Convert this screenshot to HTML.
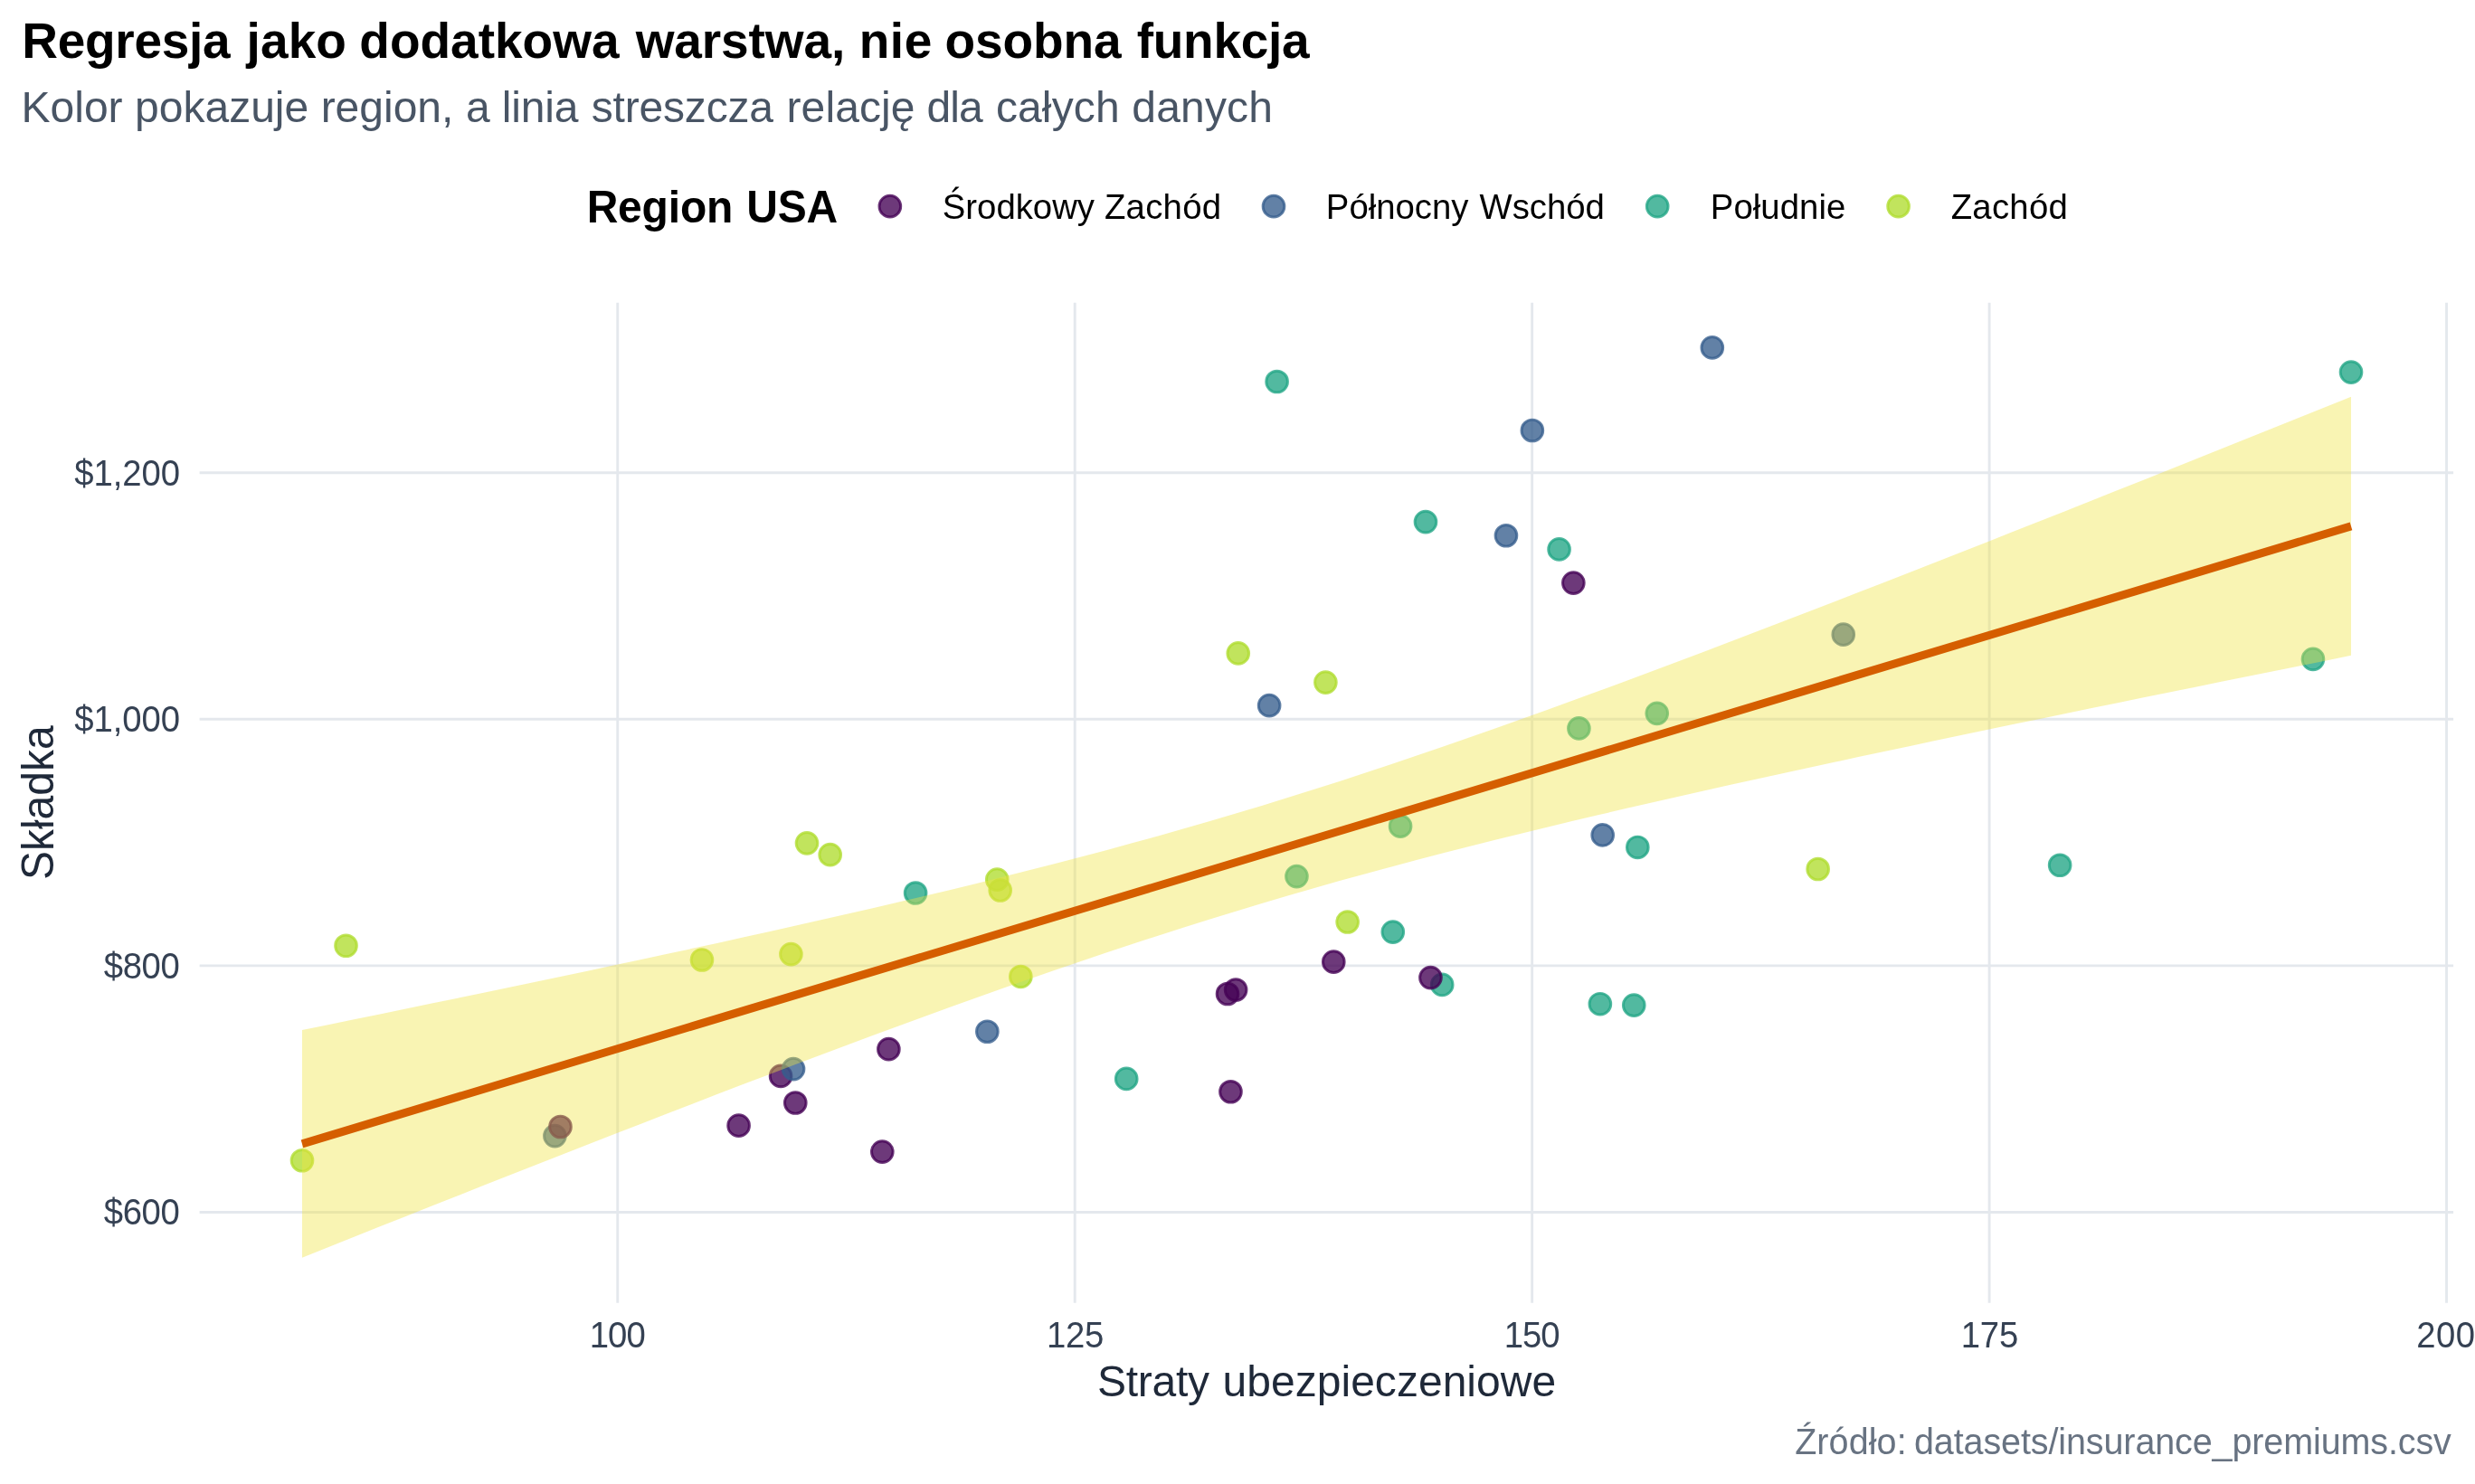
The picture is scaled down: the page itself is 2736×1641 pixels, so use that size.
<!DOCTYPE html>
<html lang="pl">
<head>
<meta charset="utf-8">
<title>Regresja jako dodatkowa warstwa, nie osobna funkcja</title>
<style>
html,body{margin:0;padding:0;background:#fff;}
body{width:2736px;height:1641px;overflow:hidden;font-family:"Liberation Sans",Arial,Helvetica,sans-serif;}
svg{display:block;will-change:transform;}
</style>
</head>
<body>
<svg width="2736" height="1641" viewBox="0 0 2736 1641" font-family="'Liberation Sans', Arial, Helvetica, sans-serif">
<rect width="2736" height="1641" fill="#ffffff"/>
<g stroke="#E4E8ED" stroke-width="2.9" fill="none">
<line x1="220.60" x2="2712.10" y1="1340.45" y2="1340.45"/>
<line x1="220.60" x2="2712.10" y1="1067.88" y2="1067.88"/>
<line x1="220.60" x2="2712.10" y1="795.31" y2="795.31"/>
<line x1="220.60" x2="2712.10" y1="522.74" y2="522.74"/>
<line x1="682.75" x2="682.75" y1="334.80" y2="1440.70"/>
<line x1="1188.20" x2="1188.20" y1="334.80" y2="1440.70"/>
<line x1="1693.65" x2="1693.65" y1="334.80" y2="1440.70"/>
<line x1="2199.10" x2="2199.10" y1="334.80" y2="1440.70"/>
<line x1="2704.55" x2="2704.55" y1="334.80" y2="1440.70"/>
</g>
<g stroke-width="2.95">
<circle cx="1594.18" cy="1088.94" r="11.85" fill="#21A585" fill-opacity="0.78" stroke="#21A585" stroke-opacity="0.78"/>
<circle cx="1368.75" cy="722.42" r="11.85" fill="#B0DD2F" fill-opacity="0.78" stroke="#B0DD2F" stroke-opacity="0.78"/>
<circle cx="892.01" cy="932.32" r="11.85" fill="#B0DD2F" fill-opacity="0.78" stroke="#B0DD2F" stroke-opacity="0.78"/>
<circle cx="1539.79" cy="1030.62" r="11.85" fill="#21A585" fill-opacity="0.78" stroke="#21A585" stroke-opacity="0.78"/>
<circle cx="2009.66" cy="961.02" r="11.85" fill="#B0DD2F" fill-opacity="0.78" stroke="#B0DD2F" stroke-opacity="0.78"/>
<circle cx="1489.65" cy="1019.50" r="11.85" fill="#B0DD2F" fill-opacity="0.78" stroke="#B0DD2F" stroke-opacity="0.78"/>
<circle cx="2037.76" cy="701.64" r="11.85" fill="#365D8D" fill-opacity="0.78" stroke="#365D8D" stroke-opacity="0.78"/>
<circle cx="1723.57" cy="607.41" r="11.85" fill="#21A585" fill-opacity="0.78" stroke="#21A585" stroke-opacity="0.78"/>
<circle cx="1411.61" cy="422.04" r="11.85" fill="#21A585" fill-opacity="0.78" stroke="#21A585" stroke-opacity="0.78"/>
<circle cx="1575.98" cy="577.08" r="11.85" fill="#21A585" fill-opacity="0.78" stroke="#21A585" stroke-opacity="0.78"/>
<circle cx="1548.08" cy="913.67" r="11.85" fill="#21A585" fill-opacity="0.78" stroke="#21A585" stroke-opacity="0.78"/>
<circle cx="1105.71" cy="984.50" r="11.85" fill="#B0DD2F" fill-opacity="0.78" stroke="#B0DD2F" stroke-opacity="0.78"/>
<circle cx="333.99" cy="1283.26" r="11.85" fill="#B0DD2F" fill-opacity="0.78" stroke="#B0DD2F" stroke-opacity="0.78"/>
<circle cx="1474.28" cy="1063.64" r="11.85" fill="#440154" fill-opacity="0.78" stroke="#440154" stroke-opacity="0.78"/>
<circle cx="863.09" cy="1189.91" r="11.85" fill="#440154" fill-opacity="0.78" stroke="#440154" stroke-opacity="0.78"/>
<circle cx="975.30" cy="1273.59" r="11.85" fill="#440154" fill-opacity="0.78" stroke="#440154" stroke-opacity="0.78"/>
<circle cx="1366.12" cy="1094.52" r="11.85" fill="#440154" fill-opacity="0.78" stroke="#440154" stroke-opacity="0.78"/>
<circle cx="1433.44" cy="969.06" r="11.85" fill="#21A585" fill-opacity="0.78" stroke="#21A585" stroke-opacity="0.78"/>
<circle cx="2599.01" cy="411.60" r="11.85" fill="#21A585" fill-opacity="0.78" stroke="#21A585" stroke-opacity="0.78"/>
<circle cx="613.40" cy="1256.12" r="11.85" fill="#365D8D" fill-opacity="0.78" stroke="#365D8D" stroke-opacity="0.78"/>
<circle cx="2556.96" cy="728.83" r="11.85" fill="#21A585" fill-opacity="0.78" stroke="#21A585" stroke-opacity="0.78"/>
<circle cx="1403.12" cy="780.13" r="11.85" fill="#365D8D" fill-opacity="0.78" stroke="#365D8D" stroke-opacity="0.78"/>
<circle cx="1739.34" cy="644.57" r="11.85" fill="#440154" fill-opacity="0.78" stroke="#440154" stroke-opacity="0.78"/>
<circle cx="1357.02" cy="1098.98" r="11.85" fill="#440154" fill-opacity="0.78" stroke="#440154" stroke-opacity="0.78"/>
<circle cx="1810.31" cy="936.95" r="11.85" fill="#21A585" fill-opacity="0.78" stroke="#21A585" stroke-opacity="0.78"/>
<circle cx="1581.44" cy="1081.07" r="11.85" fill="#440154" fill-opacity="0.78" stroke="#440154" stroke-opacity="0.78"/>
<circle cx="382.51" cy="1045.79" r="11.85" fill="#B0DD2F" fill-opacity="0.78" stroke="#B0DD2F" stroke-opacity="0.78"/>
<circle cx="982.38" cy="1160.17" r="11.85" fill="#440154" fill-opacity="0.78" stroke="#440154" stroke-opacity="0.78"/>
<circle cx="1465.39" cy="754.60" r="11.85" fill="#B0DD2F" fill-opacity="0.78" stroke="#B0DD2F" stroke-opacity="0.78"/>
<circle cx="1091.36" cy="1140.74" r="11.85" fill="#365D8D" fill-opacity="0.78" stroke="#365D8D" stroke-opacity="0.78"/>
<circle cx="1892.80" cy="384.38" r="11.85" fill="#365D8D" fill-opacity="0.78" stroke="#365D8D" stroke-opacity="0.78"/>
<circle cx="1102.27" cy="972.68" r="11.85" fill="#B0DD2F" fill-opacity="0.78" stroke="#B0DD2F" stroke-opacity="0.78"/>
<circle cx="1693.85" cy="475.98" r="11.85" fill="#365D8D" fill-opacity="0.78" stroke="#365D8D" stroke-opacity="0.78"/>
<circle cx="1245.21" cy="1192.94" r="11.85" fill="#21A585" fill-opacity="0.78" stroke="#21A585" stroke-opacity="0.78"/>
<circle cx="879.27" cy="1219.50" r="11.85" fill="#440154" fill-opacity="0.78" stroke="#440154" stroke-opacity="0.78"/>
<circle cx="1360.46" cy="1207.26" r="11.85" fill="#440154" fill-opacity="0.78" stroke="#440154" stroke-opacity="0.78"/>
<circle cx="2277.14" cy="956.79" r="11.85" fill="#21A585" fill-opacity="0.78" stroke="#21A585" stroke-opacity="0.78"/>
<circle cx="775.95" cy="1061.46" r="11.85" fill="#B0DD2F" fill-opacity="0.78" stroke="#B0DD2F" stroke-opacity="0.78"/>
<circle cx="1771.69" cy="923.43" r="11.85" fill="#365D8D" fill-opacity="0.78" stroke="#365D8D" stroke-opacity="0.78"/>
<circle cx="1664.94" cy="592.26" r="11.85" fill="#365D8D" fill-opacity="0.78" stroke="#365D8D" stroke-opacity="0.78"/>
<circle cx="1012.10" cy="987.51" r="11.85" fill="#21A585" fill-opacity="0.78" stroke="#21A585" stroke-opacity="0.78"/>
<circle cx="619.47" cy="1245.99" r="11.85" fill="#440154" fill-opacity="0.78" stroke="#440154" stroke-opacity="0.78"/>
<circle cx="1806.26" cy="1111.61" r="11.85" fill="#21A585" fill-opacity="0.78" stroke="#21A585" stroke-opacity="0.78"/>
<circle cx="1831.74" cy="788.84" r="11.85" fill="#21A585" fill-opacity="0.78" stroke="#21A585" stroke-opacity="0.78"/>
<circle cx="874.42" cy="1055.10" r="11.85" fill="#B0DD2F" fill-opacity="0.78" stroke="#B0DD2F" stroke-opacity="0.78"/>
<circle cx="877.04" cy="1182.09" r="11.85" fill="#365D8D" fill-opacity="0.78" stroke="#365D8D" stroke-opacity="0.78"/>
<circle cx="1768.86" cy="1110.20" r="11.85" fill="#21A585" fill-opacity="0.78" stroke="#21A585" stroke-opacity="0.78"/>
<circle cx="917.68" cy="945.18" r="11.85" fill="#B0DD2F" fill-opacity="0.78" stroke="#B0DD2F" stroke-opacity="0.78"/>
<circle cx="1745.41" cy="805.38" r="11.85" fill="#21A585" fill-opacity="0.78" stroke="#21A585" stroke-opacity="0.78"/>
<circle cx="816.59" cy="1244.63" r="11.85" fill="#440154" fill-opacity="0.78" stroke="#440154" stroke-opacity="0.78"/>
<circle cx="1128.35" cy="1079.95" r="11.85" fill="#B0DD2F" fill-opacity="0.78" stroke="#B0DD2F" stroke-opacity="0.78"/>
</g>
<polygon points="333.99,1138.97 362.66,1133.13 391.33,1127.27 420.00,1121.40 448.67,1115.51 477.35,1109.61 506.02,1103.68 534.69,1097.73 563.36,1091.76 592.03,1085.76 620.70,1079.74 649.37,1073.68 678.04,1067.60 706.71,1061.48 735.39,1055.32 764.06,1049.12 792.73,1042.88 821.40,1036.58 850.07,1030.24 878.74,1023.83 907.41,1017.37 936.08,1010.83 964.76,1004.23 993.43,997.54 1022.10,990.76 1050.77,983.88 1079.44,976.91 1108.11,969.81 1136.78,962.60 1165.45,955.26 1194.12,947.78 1222.80,940.15 1251.47,932.36 1280.14,924.42 1308.81,916.30 1337.48,908.01 1366.15,899.54 1394.82,890.89 1423.49,882.07 1452.17,873.06 1480.84,863.88 1509.51,854.54 1538.18,845.03 1566.85,835.36 1595.52,825.55 1624.19,815.60 1652.86,805.51 1681.53,795.31 1710.21,785.00 1738.88,774.58 1767.55,764.06 1796.22,753.46 1824.89,742.78 1853.56,732.02 1882.23,721.19 1910.90,710.30 1939.58,699.35 1968.25,688.35 1996.92,677.31 2025.59,666.21 2054.26,655.08 2082.93,643.91 2111.60,632.70 2140.27,621.47 2168.94,610.20 2197.62,598.90 2226.29,587.59 2254.96,576.24 2283.63,564.88 2312.30,553.49 2340.97,542.09 2369.64,530.67 2398.31,519.23 2426.99,507.78 2455.66,496.31 2484.33,484.83 2513.00,473.34 2541.67,461.84 2570.34,450.32 2599.01,438.80 2599.01,724.87 2570.34,730.63 2541.67,736.41 2513.00,742.19 2484.33,747.99 2455.66,753.80 2426.99,759.63 2398.31,765.47 2369.64,771.32 2340.97,777.19 2312.30,783.08 2283.63,788.99 2254.96,794.91 2226.29,800.86 2197.62,806.83 2168.94,812.83 2140.27,818.85 2111.60,824.91 2082.93,830.99 2054.26,837.11 2025.59,843.27 1996.92,849.47 1968.25,855.71 1939.58,862.00 1910.90,868.34 1882.23,874.75 1853.56,881.21 1824.89,887.74 1796.22,894.35 1767.55,901.04 1738.88,907.81 1710.21,914.68 1681.53,921.66 1652.86,928.75 1624.19,935.96 1595.52,943.30 1566.85,950.77 1538.18,958.40 1509.51,966.18 1480.84,974.12 1452.17,982.24 1423.49,990.52 1394.82,998.99 1366.15,1007.63 1337.48,1016.45 1308.81,1025.45 1280.14,1034.63 1251.47,1043.97 1222.80,1053.48 1194.12,1063.14 1165.45,1072.95 1136.78,1082.90 1108.11,1092.97 1079.44,1103.17 1050.77,1113.49 1022.10,1123.90 993.43,1134.42 964.76,1145.02 936.08,1155.70 907.41,1166.46 878.74,1177.28 850.07,1188.17 821.40,1199.11 792.73,1210.11 764.06,1221.16 735.39,1232.25 706.71,1243.38 678.04,1254.55 649.37,1265.76 620.70,1276.99 592.03,1288.26 563.36,1299.55 534.69,1310.87 506.02,1322.22 477.35,1333.58 448.67,1344.96 420.00,1356.37 391.33,1367.79 362.66,1379.22 333.99,1390.68" fill="#F0E442" fill-opacity="0.4"/>
<line x1="333.99" y1="1264.82" x2="2599.01" y2="581.83" stroke="#D55E00" stroke-width="9" stroke-linecap="butt"/>
<text y="1354.3" font-size="38.3" fill="#354153" transform="matrix(1 0 0 1.06 0 -81.258)"><tspan x="114.66" letter-spacing="-0.31">$600</tspan></text>
<text y="1082.1" font-size="38.3" fill="#354153" transform="matrix(1 0 0 1.06 0 -64.926)"><tspan x="114.66" letter-spacing="-0.31">$800</tspan></text>
<text y="809.1" font-size="38.3" fill="#354153" transform="matrix(1 0 0 1.06 0 -48.546)"><tspan x="82.26" letter-spacing="-0.04">$1,000</tspan></text>
<text y="537.0" font-size="38.3" fill="#354153" transform="matrix(1 0 0 1.06 0 -32.220)"><tspan x="82.26" letter-spacing="-0.04">$1,200</tspan></text>
<text y="1490.0" font-size="38.3" fill="#354153" transform="matrix(1 0 0 1.06 0 -89.400)"><tspan x="651.65" letter-spacing="-0.82">100</tspan></text>
<text y="1490.0" font-size="38.3" fill="#354153" transform="matrix(1 0 0 1.06 0 -89.400)"><tspan x="1157.05" letter-spacing="-0.27">125</tspan></text>
<text y="1490.0" font-size="38.3" fill="#354153" transform="matrix(1 0 0 1.06 0 -89.400)"><tspan x="1662.75" letter-spacing="-1.00">150</tspan></text>
<text y="1490.0" font-size="38.3" fill="#354153" transform="matrix(1 0 0 1.06 0 -89.400)"><tspan x="2167.65" letter-spacing="-0.17">175</tspan></text>
<text y="1490.0" font-size="38.3" fill="#354153" transform="matrix(1 0 0 1.06 0 -89.400)"><tspan x="2671.15" letter-spacing="0.53">200</tspan></text>
<text y="1544.4" font-size="48" fill="#1F2939" transform="matrix(1 0 0 1.02 0 -30.888)"><tspan x="1213.13" letter-spacing="-0.30">Straty </tspan><tspan x="1351.57" letter-spacing="0.03">ubezpieczeniowe</tspan></text>
<text transform="translate(59,887.75) rotate(-90) scale(1,1.03)" font-size="48" fill="#1F2939" text-anchor="middle">Składka</text>
<text y="64.1" font-size="55" font-weight="bold" fill="#000000" transform="matrix(1 0 0 1.02 0 -1.282)"><tspan x="24.23" letter-spacing="-0.28">Regresja </tspan><tspan x="272.54" letter-spacing="0.12">jako </tspan><tspan x="397.31">dodatkowa </tspan><tspan x="702.65" letter-spacing="-0.11">warstwa, </tspan><tspan x="949.64" letter-spacing="0.58">nie </tspan><tspan x="1044.60" letter-spacing="-0.10">osobna </tspan><tspan x="1256.66" letter-spacing="-0.25">funkcja</tspan></text>
<text y="134.9" font-size="48" fill="#495565" transform="matrix(1 0 0 1.02 0 -2.698)"><tspan x="23.45" letter-spacing="0.03">Kolor </tspan><tspan x="148.97" letter-spacing="0.03">pokazuje </tspan><tspan x="354.64">region, </tspan><tspan x="515.09">a </tspan><tspan x="554.84" letter-spacing="-0.19">linia </tspan><tspan x="653.72" letter-spacing="-0.17">streszcza </tspan><tspan x="869.54" letter-spacing="0.10">relację </tspan><tspan x="1024.59" letter-spacing="-1.00">dla </tspan><tspan x="1100.89" letter-spacing="0.14">całych </tspan><tspan x="1251.29" letter-spacing="0.19">danych</tspan></text>
<text y="1607.7" font-size="39.5" fill="#687382" transform="matrix(1 0 0 1.02 0 -32.154)"><tspan x="1984.14" letter-spacing="0.10">Źródło: </tspan><tspan x="2116.02" letter-spacing="-0.10">datasets/insurance_premiums.csv</tspan></text>
<text y="246.2" font-size="48" font-weight="bold" fill="#000000" transform="matrix(1 0 0 1.04 0 -9.848)"><tspan x="648.64" letter-spacing="-0.18">Region </tspan><tspan x="825.17" letter-spacing="-0.17">USA</tspan></text>
<g stroke-width="2.95">
<circle cx="983.85" cy="228.2" r="11.85" fill="#440154" fill-opacity="0.78" stroke="#440154" stroke-opacity="0.78"/>
<circle cx="1408.0" cy="228.2" r="11.85" fill="#365D8D" fill-opacity="0.78" stroke="#365D8D" stroke-opacity="0.78"/>
<circle cx="1832.2" cy="228.2" r="11.85" fill="#21A585" fill-opacity="0.78" stroke="#21A585" stroke-opacity="0.78"/>
<circle cx="2098.6" cy="228.2" r="11.85" fill="#B0DD2F" fill-opacity="0.78" stroke="#B0DD2F" stroke-opacity="0.78"/>
</g>
<text y="242.1" font-size="38.3" fill="#000000" transform="matrix(1 0 0 1.03 0 -7.263)"><tspan x="1041.85">Środkowy </tspan><tspan x="1220.94" letter-spacing="0.29">Zachód</tspan></text>
<text y="242.1" font-size="38.3" fill="#000000" transform="matrix(1 0 0 1.03 0 -7.263)"><tspan x="1465.87">Północny </tspan><tspan x="1635.52">Wschód</tspan></text>
<text y="242.1" font-size="38.3" fill="#000000" transform="matrix(1 0 0 1.03 0 -7.263)"><tspan x="1890.77" letter-spacing="0.09">Południe</tspan></text>
<text y="242.1" font-size="38.3" fill="#000000" transform="matrix(1 0 0 1.03 0 -7.263)"><tspan x="2156.64" letter-spacing="0.31">Zachód</tspan></text>
</svg>
</body>
</html>
